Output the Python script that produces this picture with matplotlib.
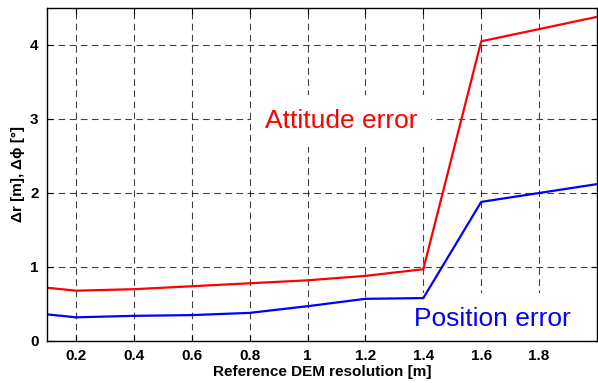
import matplotlib
matplotlib.use('Agg')
import matplotlib.pyplot as plt

# data
resolution = [0.1, 0.2, 0.4, 0.6, 0.8, 1.0, 1.2, 1.4, 1.6, 2.0]
attitude_err = [0.72, 0.68, 0.70, 0.74, 0.78, 0.82, 0.88, 0.97, 4.05, 4.38]
position_err = [0.36, 0.32, 0.34, 0.35, 0.38, 0.47, 0.57, 0.58, 1.88, 2.12]
xticks = [0.2, 0.4, 0.6, 0.8, 1.0, 1.2, 1.4, 1.6, 1.8]
xtick_labels = ['0.2', '0.4', '0.6', '0.8', '1', '1.2', '1.4', '1.6', '1.8']
yticks = [0, 1, 2, 3, 4]

plt.rcParams['font.family'] = ['Liberation Sans', 'DejaVu Sans']

fig = plt.figure(figsize=(5.98, 3.83), dpi=100)
ax = fig.add_axes([47 / 598, 1 - 341 / 383, 550 / 598, 333 / 383])

ax.plot(resolution, attitude_err, color='#ff0000', lw=1.6, zorder=5)
ax.plot(resolution, position_err, color='#0000ff', lw=1.6, zorder=5)

ax.set_xlim(0.1, 2.0)
ax.set_ylim(0, 4.5)
ax.set_xticks(xticks)
ax.set_xticklabels(xtick_labels)
ax.set_yticks(yticks)

ax.grid(True, color='k', lw=0.8, linestyle=(0, (6, 4)), alpha=0.75)
ax.tick_params(direction='in', top=True, right=True, length=4, width=0.8,
               labelsize=11, pad=6)
for lbl in ax.get_xticklabels() + ax.get_yticklabels():
    lbl.set_fontweight('bold')
for sp in ax.spines.values():
    sp.set_linewidth(1.0)
    sp.set_zorder(6)

ax.set_xlabel('Reference DEM resolution [m]', fontsize=11, fontweight='bold',
              labelpad=1)
ax.set_ylabel('\u0394r [m], \u0394\u03d5 [\u00b0]', fontsize=11,
              fontweight='bold', labelpad=4)

box = dict(facecolor='white', edgecolor='none', pad=10)
ax.text(1.116, 2.97, 'Attitude error', color='#ff0000', fontsize=19,
        ha='center', va='center', bbox=box, zorder=4)
ax.text(1.64, 0.3, 'Position error', color='#0000ff', fontsize=19,
        ha='center', va='center', bbox=box, zorder=4)

fig.savefig('out.png', dpi=100)
